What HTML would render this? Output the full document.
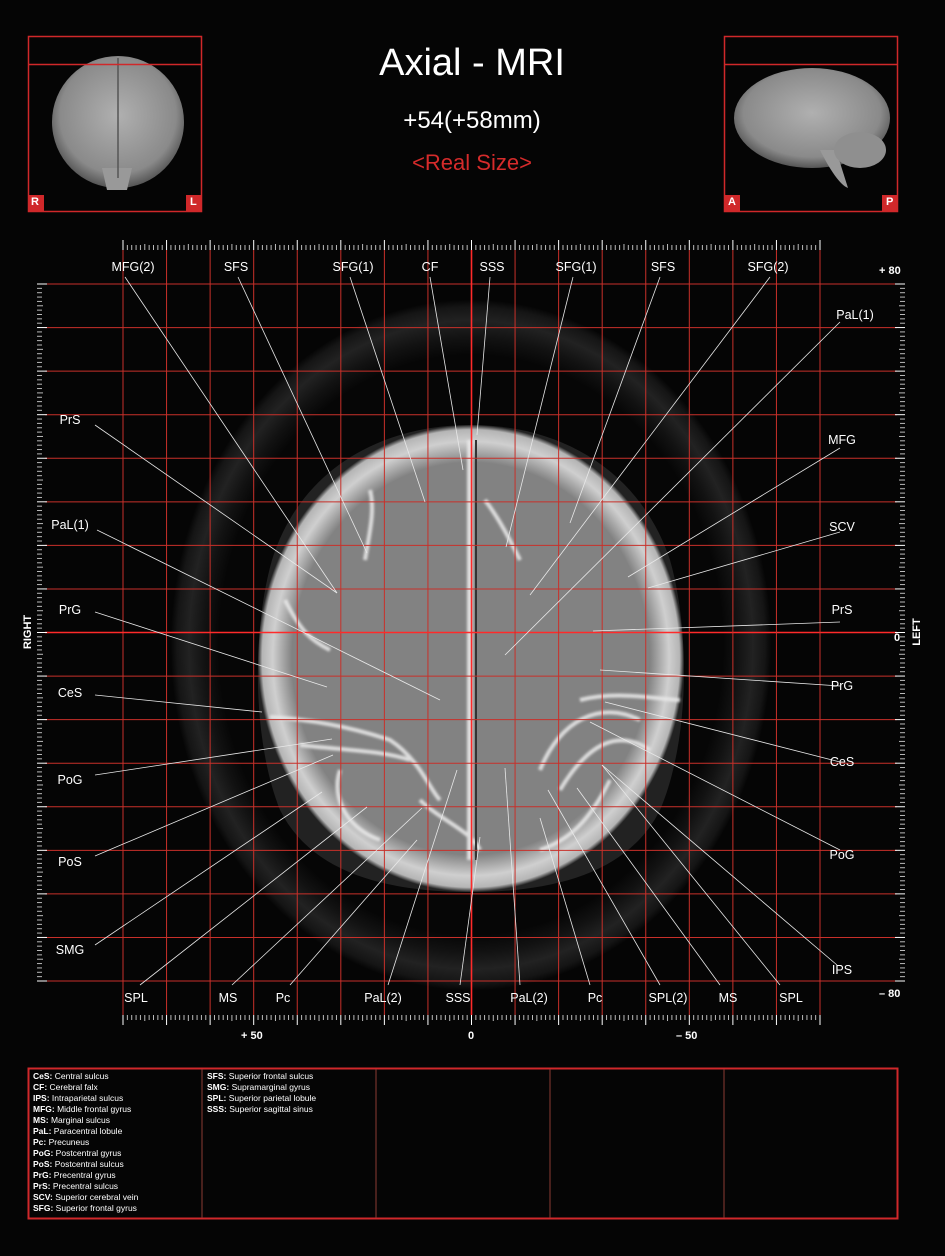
<!DOCTYPE html>
<html><head><meta charset="utf-8"><style>
html,body{margin:0;padding:0;background:#050505;}
body{width:945px;height:1256px;overflow:hidden;position:relative;font-family:"Liberation Sans",sans-serif;color:#fff;}
.t{position:absolute;white-space:nowrap}
.leg{position:absolute;font-size:8.5px;line-height:11px;color:#fff}
.leg b{font-weight:bold}
</style></head><body>
<svg id="s" width="945" height="1256" style="position:absolute;left:0;top:0" xmlns="http://www.w3.org/2000/svg">
<defs>
<radialGradient id="rim" cx="50%" cy="50%" r="50%">
<stop offset="0.84" stop-color="#828282"/><stop offset="0.93" stop-color="#cfcfcf"/><stop offset="0.98" stop-color="#b5b5b5"/><stop offset="1" stop-color="#222"/>
</radialGradient>
<radialGradient id="ring" cx="50%" cy="50%" r="50%">
<stop offset="0.84" stop-color="#060606"/><stop offset="0.89" stop-color="#121212"/><stop offset="0.94" stop-color="#222"/><stop offset="0.98" stop-color="#151515"/><stop offset="1" stop-color="#060606"/>
</radialGradient>
<radialGradient id="thumb" cx="50%" cy="45%" r="55%">
<stop offset="0" stop-color="#b0b0b0"/><stop offset="0.8" stop-color="#8a8a8a"/><stop offset="1" stop-color="#555"/>
</radialGradient>
<filter id="bl"><feGaussianBlur stdDeviation="1.2"/></filter>
</defs>
<ellipse cx="471" cy="645" rx="300" ry="345" fill="url(#ring)"/>
<path d="M471,425 C560,425 640,470 670,560 C690,630 690,740 660,810 C630,870 560,892 471,892 C380,892 310,870 280,810 C252,740 252,630 272,560 C300,470 380,425 471,425 Z" fill="url(#rim)"/>
<g stroke="#e8e8e8" stroke-width="4" fill="none" filter="url(#bl)" opacity="0.9">
<path d="M270,717 C320,720 360,730 390,740 C420,760 430,790 440,800"/>
<path d="M300,745 C340,750 380,750 410,760"/>
<path d="M580,700 C620,690 660,700 680,700"/>
<path d="M540,770 C560,720 600,700 640,720"/>
<path d="M560,790 C590,740 620,730 650,750"/>
<path d="M365,560 C370,530 375,510 370,490"/>
<path d="M340,770 C330,800 350,830 380,840"/>
<path d="M420,800 C440,820 470,830 480,850"/>
<path d="M610,780 C590,820 570,840 540,850"/>
<path d="M470,440 L470,860" stroke-width="6"/>
<path d="M485,500 C500,520 510,540 520,560"/>
<path d="M285,600 C300,630 310,640 330,650"/>
</g>
<line x1="476" y1="440" x2="476" y2="860" stroke="#333" stroke-width="2"/>
<g id="grid"></g>
<g id="ticks" stroke="#ddd"></g>
<g id="lbl" stroke="#e8e8e8" stroke-width="0.8"></g>
<rect x="28.5" y="36.5" width="173" height="175" fill="none" stroke="#d0282a" stroke-width="1.5"/>
<ellipse cx="118" cy="122" rx="66" ry="66" fill="url(#thumb)"/>
<path d="M102,168 L132,168 L127,190 L107,190 Z" fill="#999"/>
<line x1="118" y1="58" x2="118" y2="178" stroke="#555" stroke-width="1.5"/>
<line x1="28" y1="64.5" x2="202" y2="64.5" stroke="#d0282a" stroke-width="1.5"/>
<rect x="28" y="195" width="16" height="16" fill="#d0282a"/><rect x="186" y="195" width="16" height="16" fill="#d0282a"/>
<rect x="724.5" y="36.5" width="173" height="175" fill="none" stroke="#d0282a" stroke-width="1.5"/>
<ellipse cx="812" cy="118" rx="78" ry="50" fill="url(#thumb)"/>
<path d="M820,150 C830,170 840,185 848,188 L836,150 Z" fill="#999"/>
<ellipse cx="860" cy="150" rx="26" ry="18" fill="#8f8f8f"/>
<line x1="724" y1="64.5" x2="898" y2="64.5" stroke="#d0282a" stroke-width="1.5"/>
<rect x="724" y="195" width="16" height="16" fill="#d0282a"/><rect x="882" y="195" width="16" height="16" fill="#d0282a"/>
<rect x="28.5" y="1068.5" width="869" height="150" fill="none" stroke="#d0282a" stroke-width="2"/>
<g stroke="#8a3a34" stroke-width="1">
<line x1="202" y1="1069" x2="202" y2="1218"/><line x1="376" y1="1069" x2="376" y2="1218"/>
<line x1="550" y1="1069" x2="550" y2="1218"/><line x1="724" y1="1069" x2="724" y2="1218"/>
</g>
</svg>
<div class="t" style="left:472px;top:42px;transform:translateX(-50%);font-size:38px">Axial - MRI</div>
<div class="t" style="left:472px;top:107px;transform:translateX(-50%);font-size:24px">+54(+58mm)</div>
<div class="t" style="left:472px;top:150px;transform:translateX(-50%);font-size:22px;color:#d52b2b">&lt;Real Size&gt;</div>
<div class="t" style="left:31px;top:196px;font-size:11px;font-weight:bold">R</div>
<div class="t" style="left:190px;top:196px;font-size:11px;font-weight:bold">L</div>
<div class="t" style="left:728px;top:196px;font-size:11px;font-weight:bold">A</div>
<div class="t" style="left:886px;top:196px;font-size:11px;font-weight:bold">P</div>
<div class="t" style="left:879px;top:265px;font-size:11px;font-weight:bold">+ 80</div>
<div class="t" style="left:894px;top:632px;font-size:11px;font-weight:bold">0</div>
<div class="t" style="left:879px;top:988px;font-size:11px;font-weight:bold">– 80</div>
<div class="t" style="left:241px;top:1030px;font-size:11px;font-weight:bold">+ 50</div>
<div class="t" style="left:468px;top:1030px;font-size:11px;font-weight:bold">0</div>
<div class="t" style="left:676px;top:1030px;font-size:11px;font-weight:bold">– 50</div>
<div class="t" style="left:28px;top:632px;font-size:11px;font-weight:bold;transform:translate(-50%,-50%) rotate(-90deg)">RIGHT</div>
<div class="t" style="left:917px;top:632px;font-size:11px;font-weight:bold;transform:translate(-50%,-50%) rotate(-90deg)">LEFT</div>
<div id="labels"></div>
<div class="leg" style="left:33px;top:1071px">
<b>CeS:</b> Central sulcus<br><b>CF:</b> Cerebral falx<br><b>IPS:</b> Intraparietal sulcus<br><b>MFG:</b> Middle frontal gyrus<br><b>MS:</b> Marginal sulcus<br><b>PaL:</b> Paracentral lobule<br><b>Pc:</b> Precuneus<br><b>PoG:</b> Postcentral gyrus<br><b>PoS:</b> Postcentral sulcus<br><b>PrG:</b> Precentral gyrus<br><b>PrS:</b> Precentral sulcus<br><b>SCV:</b> Superior cerebral vein<br><b>SFG:</b> Superior frontal gyrus</div>
<div class="leg" style="left:207px;top:1071px">
<b>SFS:</b> Superior frontal sulcus<br><b>SMG:</b> Supramarginal gyrus<br><b>SPL:</b> Superior parietal lobule<br><b>SSS:</b> Superior sagittal sinus</div>
<script>
var NS="http://www.w3.org/2000/svg";
function L(g,x1,y1,x2,y2,c,w){var l=document.createElementNS(NS,"line");l.setAttribute("x1",x1);l.setAttribute("y1",y1);l.setAttribute("x2",x2);l.setAttribute("y2",y2);if(c)l.setAttribute("stroke",c);if(w)l.setAttribute("stroke-width",w);g.appendChild(l);}
var g=document.getElementById("grid"),t=document.getElementById("ticks");
var sp=697/16;
for(var k=0;k<=16;k++){
 var x=123+k*sp,y=284+k*sp;
 var c=(k==8)?"#ff2a2a":"#c8302a",w=(k==8)?1.6:1;
 L(g,x,250,x,1015,c,w);
 L(g,45,y,897,y,c,w);
}
for(var k=0;k<=160;k++){
 var x=123+k*sp/10,y=284+k*sp/10,maj=(k%10==0),mid=(k%5==0);
 var ln=maj?10:(mid?6:5);
 L(t,x,250-ln,x,250,maj?"#fff":"#bbb",1);
 L(t,x,1015,x,1015+ln,maj?"#fff":"#bbb",1);
 L(t,37,y,37+ln,y,maj?"#fff":"#bbb",1);
 L(t,905-ln,y,905,y,maj?"#fff":"#bbb",1);
}
var lab=[
["MFG(2)",133,267,125,277,337,593],["SFS",236,267,238,277,367,553],["SFG(1)",353,267,350,277,425,502],["CF",430,267,430,277,463,470],["SSS",492,267,490,277,477,435],["SFG(1)",576,267,573,277,506,547],["SFS",663,267,660,277,570,523],["SFG(2)",768,267,770,277,530,595],
["PaL(1)",855,315,840,322,505,655],["MFG",842,440,840,448,628,577],["SCV",842,527,840,532,648,588],["PrS",842,610,840,622,593,631],["PrG",842,686,840,686,600,670],["CeS",842,762,840,762,605,702],["PoG",842,855,840,850,590,722],["IPS",842,970,837,965,602,765],
["PrS",70,420,95,425,337,593],["PaL(1)",70,525,97,530,440,700],["PrG",70,610,95,612,327,687],["CeS",70,693,95,695,262,712],["PoG",70,780,95,775,332,739],["PoS",70,862,95,856,333,755],["SMG",70,950,95,945,322,792],
["SPL",136,998,140,985,367,807],["MS",228,998,232,985,422,808],["Pc",283,998,290,985,417,840],["PaL(2)",383,998,388,985,457,770],["SSS",458,998,460,985,480,837],["PaL(2)",529,998,520,985,505,768],["Pc",595,998,590,985,540,818],["SPL(2)",668,998,660,985,548,790],["MS",728,998,720,985,577,788],["SPL",791,998,780,985,602,765]];
var d=document.getElementById("labels"),gl=document.getElementById("lbl");
lab.forEach(function(a){
 var e=document.createElement("div");e.className="t";e.textContent=a[0];
 e.style.cssText="font-size:12.5px;left:"+a[1]+"px;top:"+(a[2]-7)+"px;transform:translateX(-50%)";
 d.appendChild(e);L(gl,a[3],a[4],a[5],a[6]);
});
</script>
</body></html>
